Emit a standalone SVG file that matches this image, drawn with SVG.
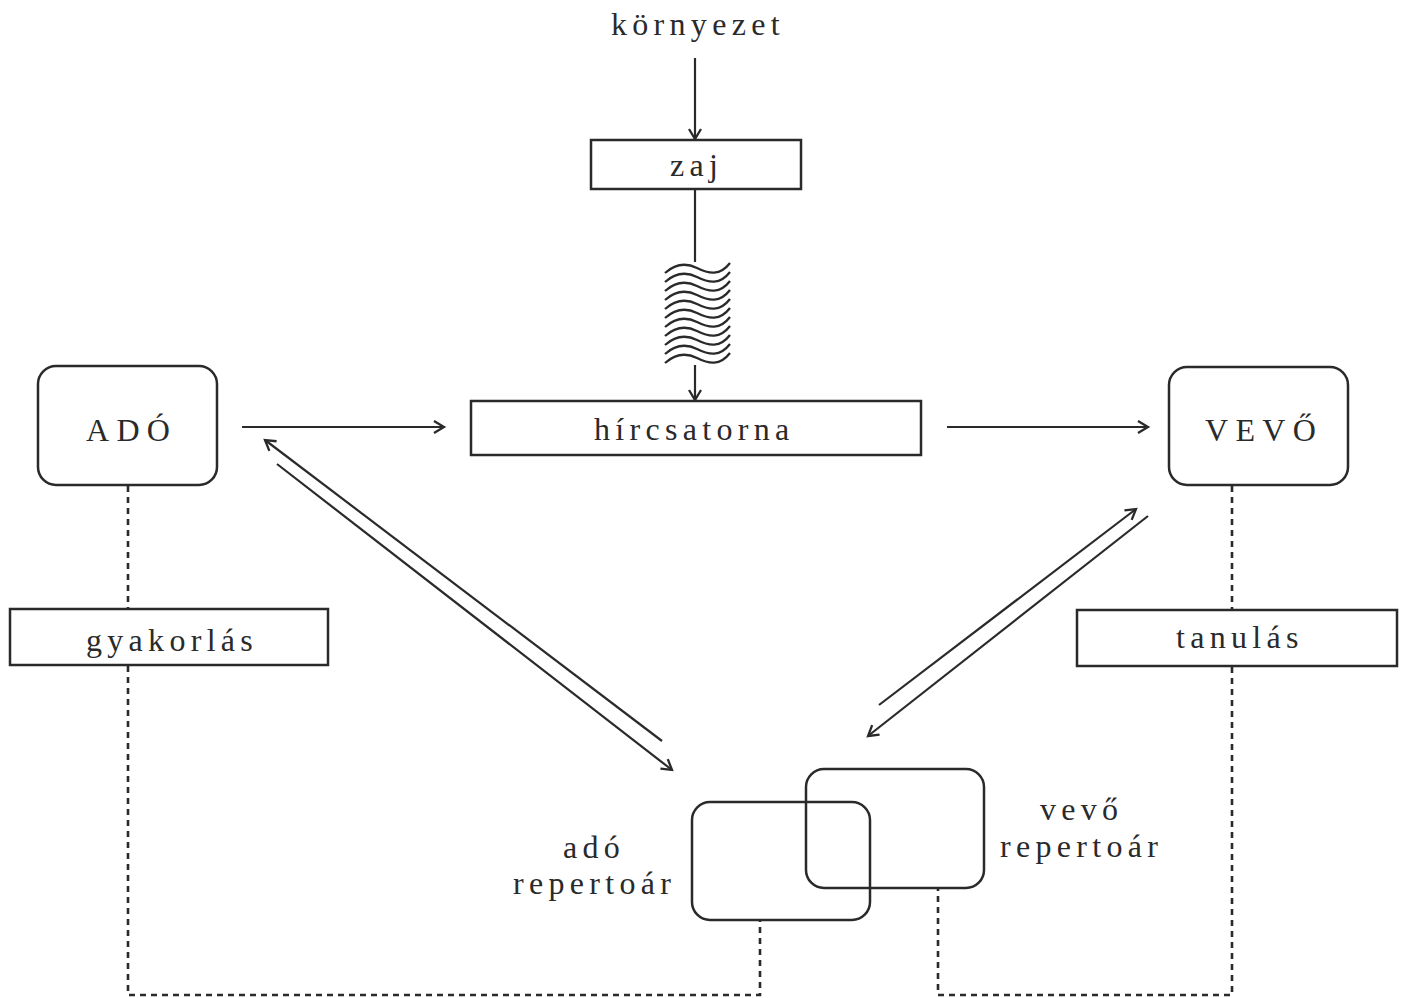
<svg xmlns="http://www.w3.org/2000/svg" width="1405" height="998" viewBox="0 0 1405 998">
<style>
.box{fill:none;stroke:#2a2a2a;stroke-width:2.5}
.ln{fill:none;stroke:#2a2a2a;stroke-width:2.2}
.dot{fill:none;stroke:#2a2a2a;stroke-width:2.6;stroke-dasharray:6 5}
.wave{fill:none;stroke:#2a2a2a;stroke-width:2.3}
text{font-family:"Liberation Serif","Times New Roman",serif;font-size:32px;fill:#2a2a2a;letter-spacing:5.3px}
.cap{letter-spacing:7.3px}
</style>
<defs>
<marker id="ah" markerUnits="userSpaceOnUse" markerWidth="16" markerHeight="16" refX="13" refY="7" orient="auto" viewBox="0 0 16 14">
<path d="M3,1 L13,7 L3,13" fill="none" stroke="#2a2a2a" stroke-width="2.3"/>
</marker>
</defs>
<rect width="1405" height="998" fill="#fff"/>
<g id="connectors">
<line class="ln" x1="695" y1="58" x2="695" y2="139" marker-end="url(#ah)"/>
<line class="ln" x1="695" y1="189" x2="695" y2="262"/>
<g id="waves">
<path class="wave" d="M665,273 C675,264 685,262 697,268 S720,276 730,263"/>
<path class="wave" d="M665,282 C675,273 685,271 697,277 S720,285 730,272"/>
<path class="wave" d="M665,291 C675,282 685,280 697,286 S720,294 730,281"/>
<path class="wave" d="M665,300 C675,291 685,289 697,295 S720,303 730,290"/>
<path class="wave" d="M665,309 C675,300 685,298 697,304 S720,312 730,299"/>
<path class="wave" d="M665,318 C675,309 685,307 697,313 S720,321 730,308"/>
<path class="wave" d="M665,327 C675,318 685,316 697,322 S720,330 730,317"/>
<path class="wave" d="M665,336 C675,327 685,325 697,331 S720,339 730,326"/>
<path class="wave" d="M665,345 C675,336 685,334 697,340 S720,348 730,335"/>
<path class="wave" d="M665,354 C675,345 685,343 697,349 S720,357 730,344"/>
<path class="wave" d="M665,363 C675,354 685,352 697,358 S720,366 730,353"/>
</g>
<line class="ln" x1="695" y1="365" x2="695" y2="400" marker-end="url(#ah)"/>
<line class="ln" x1="242" y1="427" x2="444" y2="427" marker-end="url(#ah)"/>
<line class="ln" x1="947" y1="427" x2="1148" y2="427" marker-end="url(#ah)"/>
<line class="ln" x1="662" y1="741" x2="265" y2="440" marker-end="url(#ah)"/>
<line class="ln" x1="277" y1="464" x2="672" y2="770" marker-end="url(#ah)"/>
<line class="ln" x1="879" y1="705" x2="1136" y2="509" marker-end="url(#ah)"/>
<line class="ln" x1="1148" y1="516" x2="868" y2="736" marker-end="url(#ah)"/>
<polyline class="dot" points="128,486 128,609"/>
<polyline class="dot" points="128,666 128,995 760,995 760,921"/>
<polyline class="dot" points="1232,486 1232,610"/>
<polyline class="dot" points="1232,667 1232,995 938,995 938,889"/>
</g>
<g id="kornyezet"><text x="611" y="35">környezet</text></g>
<g id="zaj"><rect class="box" x="591" y="140" width="210" height="49"/><text x="670" y="176">zaj</text></g>
<g id="hircsatorna"><rect class="box" x="471" y="401" width="450" height="54"/><text x="594" y="440">hírcsatorna</text></g>
<g id="ado"><rect class="box" x="38" y="366" width="179" height="119" rx="18"/><text class="cap" x="86" y="441">ADÓ</text></g>
<g id="vevo"><rect class="box" x="1169" y="367" width="179" height="118" rx="18"/><text class="cap" x="1205" y="441">VEVŐ</text></g>
<g id="gyakorlas"><rect class="box" x="10" y="609" width="318" height="56"/><text x="86" y="651">gyakorlás</text></g>
<g id="tanulas"><rect class="box" x="1077" y="610" width="320" height="56"/><text x="1176" y="648">tanulás</text></g>
<g id="vevo-repertoar"><rect class="box" x="806" y="769" width="178" height="119" rx="18"/><text x="1040" y="820">vevő</text><text x="1000" y="857">repertoár</text></g>
<g id="ado-repertoar"><rect class="box" x="692" y="802" width="178" height="118" rx="18"/><text x="563" y="858">adó</text><text x="513" y="894">repertoár</text></g>
</svg>
